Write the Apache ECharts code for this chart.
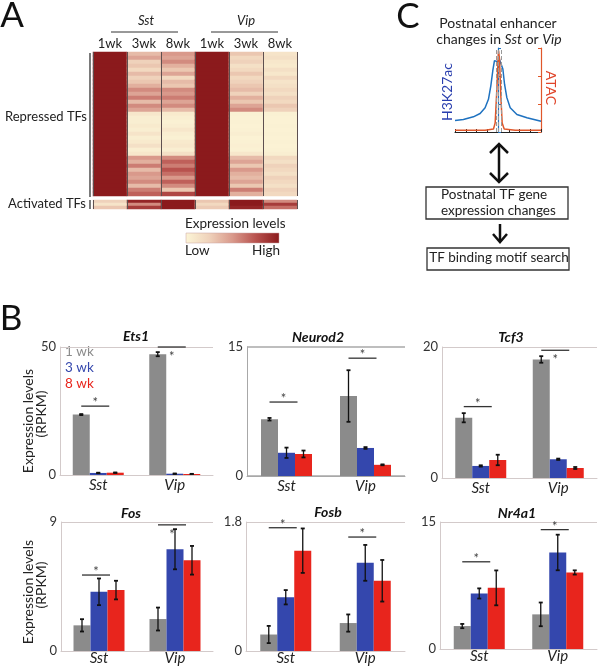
<!DOCTYPE html>
<html>
<head>
<meta charset="utf-8">
<script src="https://cdn.jsdelivr.net/npm/echarts@6/dist/echarts.min.js"></script>
<style>
html, body { margin: 0; padding: 0; background: #fff; }
#main { width: 600px; height: 668px; }
</style>
</head>
<body>
<div id="main"></div>
<script>
// ---- A: heatmap (0 = low, 1 = high), one array per column ----
var weeks = ['1wk', '3wk', '8wk', '1wk', '3wk', '8wk'];
var repSst1 = [1,1,1,1,1,1,1,1,1,1,1,1,1,1,1,1,1,1,1,1,1,1,1,1,1,1,1,1,1,1,1,1,1,1,1,1];
var repSst3 = [0.35,0.45,0.25,0.3,0.2,0.35,0.25,0.3,0.4,0.55,0.45,0.6,0.35,0.55,0.45,0.1,0.05,0.05,0.08,0.05,0.12,0.05,0.08,0.15,0.05,0.1,0.5,0.4,0.6,0.35,0.5,0.45,0.55,0.35,0.6,0.7];
var repSst8 = [0.5,0.45,0.55,0.4,0.3,0.45,0.2,0.35,0.3,0.55,0.5,0.6,0.45,0.55,0.35,0.08,0.05,0.03,0.05,0.1,0.05,0.03,0.08,0.1,0.05,0.15,0.55,0.7,0.6,0.75,0.65,0.5,0.7,0.55,0.3,0.8];
var repVip1 = [1,1,1,1,1,1,1,1,1,1,1,1,1,1,1,1,1,1,1,1,1,1,1,1,1,1,1,1,1,1,1,1,1,1,1,1];
var repVip3 = [0.3,0.2,0.25,0.15,0.2,0.3,0.2,0.25,0.3,0.35,0.25,0.4,0.3,0.45,0.55,0.03,0.02,0.03,0.02,0.03,0.05,0.02,0.03,0.04,0.03,0.1,0.35,0.45,0.3,0.5,0.4,0.35,0.45,0.3,0.6,0.4];
var repVip8 = [0.12,0.15,0.1,0.08,0.15,0.1,0.2,0.12,0.15,0.2,0.15,0.25,0.2,0.3,0.25,0.03,0.02,0.02,0.03,0.02,0.03,0.02,0.03,0.02,0.03,0.05,0.2,0.15,0.25,0.2,0.15,0.25,0.2,0.15,0.25,0.2];
var actSst1 = [0.25,0.12,0.3];
var actSst3 = [0.95,0.55,0.85];
var actSst8 = [1,1,1];
var actVip1 = [0.3,0.2,0.28];
var actVip3 = [1,1,0.95];
var actVip8 = [0.55,0.85,0.65];

// ---- C: enhancer profiles (x = relative position, y = scaled signal) ----
var h3k27ac = [[-1,0.135],[-0.805,0.147],[-0.572,0.179],[-0.416,0.218],[-0.3,0.286],[-0.222,0.385],[-0.167,0.544],[-0.121,0.722],[-0.082,0.841],[-0.043,0.861],[-0.004,0.829],[0.035,0.853],[0.074,0.853],[0.113,0.742],[0.152,0.563],[0.206,0.405],[0.284,0.286],[0.44,0.206],[0.673,0.167],[1,0.127]];
var atac = [[-1,0.02],[-0.3,0.02],[-0.105,0.036],[-0.066,0.107],[-0.027,0.504],[0.012,0.96],[0.035,0.861],[0.066,0.425],[0.097,0.107],[0.144,0.036],[0.4,0.02],[1,0.02]];
var centerLines = [-0.043, 0.012, 0.074];

// ---- B: expression levels (RPKM), [Sst, Vip] per gene ----
var genes = ['Ets1', 'Neurod2', 'Tcf3', 'Fos', 'Fosb', 'Nr4a1'];
var cells = ['Sst', 'Vip'];
var yMax = [50, 15, 20, 9, 1.8, 15];
var wk1 = [[23.6,47.2],[6.6,9.3],[9.2,18.1],[1.79,2.23],[0.23,0.39],[2.71,4.09]];
var wk3 = [[0.8,0.5],[2.7,3.26],[1.84,2.86],[4.13,7.1],[0.75,1.23],[6.56,11.4]];
var wk8 = [[0.9,0.4],[2.56,1.3],[2.75,1.53],[4.25,6.33],[1.4,0.98],[7.22,9.04]];
var err1 = [[0.2,0.8],[0.15,3.0],[0.7,0.5],[0.43,0.8],[0.12,0.12],[0.25,1.4]];
var err3 = [[0.1,0.1],[0.6,0.1],[0.1,0.1],[0.93,1.4],[0.1,0.25],[0.6,2.1]];
var err8 = [[0.1,0.05],[0.4,0.05],[0.8,0.15],[0.65,1.0],[0.31,0.29],[2.06,0.25]];
var sigLevel = [[26.9,50],[8.6,13.7],[10.9,19.5],[5.3,8.8],[1.72,1.59],[10.3,14.1]];
var starBelow = [[0,1],[0,0],[0,1],[0,1],[0,0],[0,0]];

var FONT = 'Lato';
var weekNames = ['1 wk', '3 wk', '8 wk'];
var weekColors = ['#8b8b8b', '#3447ad', '#e8251d'];
var heatColors = ['#fcf5d6', '#efd2bb', '#d9998b', '#b8524e', '#8b1a1c'];

var myChart = echarts.init(document.getElementById('main'));

function txt(x, y, s, font, color, align, rot, rich) {
    var st = { text: s, font: font, fill: color || '#222',
        align: align || 'center', textAlign: align || 'center',
        verticalAlign: 'middle', textVerticalAlign: 'middle' };
    if (rich) st.rich = rich;
    return { type: 'text', x: x, y: y, rotation: rot || 0, style: st };
}
function ln(x1, y1, x2, y2, w, color) {
    return { type: 'line', shape: { x1: x1, y1: y1, x2: x2, y2: y2 },
        style: { stroke: color || '#222', lineWidth: w || 1 } };
}
function chevron(pts) {
    return { type: 'polyline', shape: { points: pts },
        style: { stroke: '#111', lineWidth: 2.5, fill: null } };
}

// heatmap data
var repCols = [repSst1, repSst3, repSst8, repVip1, repVip3, repVip8];
var actCols = [actSst1, actSst3, actSst8, actVip1, actVip3, actVip8];
var repData = [], actData = [], repRows = [], actRows = [];
repCols.forEach(function (col, c) {
    col.forEach(function (v, r) { repData.push([c, r, v]); });
});
actCols.forEach(function (col, c) {
    col.forEach(function (v, r) { actData.push([c, r, v]); });
});
for (var r = 0; r < repSst1.length; r++) repRows.push('r' + r);
for (var r2 = 0; r2 < actSst1.length; r2++) actRows.push('a' + r2);

// 4px rows / 3px rows so that cells meet on whole pixels
var grids = [
    { left: 93, top: 52, width: 204, height: 144 },
    { left: 93, top: 200, width: 204, height: 9 },
    { left: 455, top: 48, width: 86, height: 84 }
];
var barGrids = [
    { left: 60, top: 347, width: 153, height: 128 },
    { left: 247, top: 347, width: 158, height: 129 },
    { left: 442, top: 347, width: 155, height: 131 },
    { left: 61, top: 522, width: 152, height: 129 },
    { left: 246, top: 522, width: 159, height: 129 },
    { left: 440, top: 522, width: 157, height: 127 }
];
grids = grids.concat(barGrids);

var sepLine = { show: true, lineStyle: { color: '#5e5050', width: 1 } };
var xAxes = [
    { type: 'category', gridIndex: 0, data: weeks, position: 'top', z: 10,
      axisLine: { show: false }, axisTick: { show: false },
      axisLabel: { fontSize: 13, fontFamily: FONT, color: '#222', margin: 2 },
      splitLine: sepLine },
    { type: 'category', gridIndex: 1, data: weeks, z: 10,
      axisLine: { show: false }, axisTick: { show: false }, axisLabel: { show: false },
      splitLine: sepLine },
    { type: 'value', gridIndex: 2, min: -1, max: 1, interval: 0.25,
      axisLine: { lineStyle: { color: '#222' } },
      axisTick: { inside: true, length: 3, lineStyle: { color: '#222' } },
      axisLabel: { show: false }, splitLine: { show: false } }
];
var yAxes = [
    { type: 'category', gridIndex: 0, data: repRows, inverse: true, show: false },
    { type: 'category', gridIndex: 1, data: actRows, inverse: true, show: false },
    { type: 'value', gridIndex: 2, min: 0, max: 0.99, interval: 0.33,
      axisLine: { show: true, lineStyle: { color: '#1f72c0', width: 1.2 } },
      axisTick: { show: true, inside: true, length: 3, lineStyle: { color: '#1f72c0' } },
      axisLabel: { show: false }, splitLine: { show: false } },
    { type: 'value', gridIndex: 2, position: 'right', min: 0, max: 0.99, interval: 0.33,
      axisLine: { show: true, lineStyle: { color: '#e0572a', width: 1.2 } },
      axisTick: { show: true, inside: true, length: 3, lineStyle: { color: '#e0572a' } },
      axisLabel: { show: false }, splitLine: { show: false } }
];

var series = [
    { type: 'heatmap', xAxisIndex: 0, yAxisIndex: 0, data: repData, itemStyle: { borderWidth: 0 } },
    { type: 'heatmap', xAxisIndex: 1, yAxisIndex: 1, data: actData, itemStyle: { borderWidth: 0 } },
    { type: 'line', xAxisIndex: 2, yAxisIndex: 2, data: h3k27ac, symbol: 'none',
      lineStyle: { color: '#1f72c0', width: 1.5 },
      markLine: { silent: true, symbol: 'none', label: { show: false },
        lineStyle: { color: '#999', type: 'dashed', width: 1 },
        data: centerLines.map(function (v) { return { xAxis: v }; }) } },
    { type: 'line', xAxisIndex: 2, yAxisIndex: 3, data: atac, symbol: 'none',
      lineStyle: { color: '#e0572a', width: 1.5 } }
];

function renderErr(params, api) {
    var c = api.value(0), v = api.value(1), e = api.value(2), s = api.value(3);
    var hi = api.coord([c, v + e]);
    var lo = api.coord([c, Math.max(v - e, 0)]);
    var x = hi[0] + (s - 1) * 17;
    return { type: 'group', children: [
        ln(x, hi[1], x, lo[1], 1.3, '#111'),
        ln(x - 2, hi[1], x + 2, hi[1], 1.8, '#111'),
        ln(x - 2, lo[1], x + 2, lo[1], 1.8, '#111')
    ] };
}
function renderSig(params, api) {
    var p = api.coord([api.value(0), api.value(1)]);
    var below = api.value(2);
    return { type: 'group', children: [
        ln(p[0] - 17, p[1], p[0] + 11, p[1], 1.3, '#333'),
        { type: 'text', x: p[0] - 3, y: below ? p[1] + 10 : p[1] - 3,
          style: { text: '*', font: '13px ' + FONT, fill: '#444',
            align: 'center', textAlign: 'center', verticalAlign: 'middle', textVerticalAlign: 'middle' } }
    ] };
}

genes.forEach(function (g, i) {
    var gx = i + 3;   // x axis / grid index
    var gy = i + 4;   // y axis index
    var axColor = i === 1 ? '#a8a8a8' : '#d3caca';
    xAxes.push({ type: 'category', gridIndex: gx, data: cells,
        axisTick: { show: false }, axisLine: { lineStyle: { color: axColor } },
        axisLabel: { fontStyle: 'italic', fontSize: 15, fontFamily: FONT, color: '#222', margin: i < 3 ? 3 : 0 } });
    yAxes.push({ type: 'value', gridIndex: gx, min: 0, max: yMax[i], interval: yMax[i],
        axisLine: { show: true, lineStyle: { color: axColor } }, axisTick: { show: false },
        axisLabel: { fontSize: 13, fontFamily: FONT, color: '#333', margin: 4 },
        splitLine: { show: true, lineStyle: { color: axColor, width: i === 1 ? 1.5 : 1 } } });
    var vals = [wk1[i], wk3[i], wk8[i]];
    var errs = [err1[i], err3[i], err8[i]];
    var errData = [];
    vals.forEach(function (v, s) {
        series.push({ type: 'bar', name: weekNames[s], xAxisIndex: gx, yAxisIndex: gy,
            data: v, barWidth: 17, barGap: '0%', itemStyle: { color: weekColors[s] } });
        v.forEach(function (val, c) { errData.push([c, val, errs[s][c], s]); });
    });
    series.push({ type: 'custom', xAxisIndex: gx, yAxisIndex: gy, z: 4, clip: false,
        encode: { x: 0, y: 1 }, renderItem: renderErr, data: errData });
    series.push({ type: 'custom', xAxisIndex: gx, yAxisIndex: gy, z: 4, clip: false,
        encode: { x: 0, y: 1 }, renderItem: renderSig,
        data: [[0, sigLevel[i][0], starBelow[i][0]], [1, sigLevel[i][1], starBelow[i][1]]] });
});

// gene titles (centre x, centre y)
var titlePos = [[136, 336], [318, 337], [511, 337], [131, 513], [328, 512], [517, 513]];
var graphics = [];
genes.forEach(function (g, i) {
    graphics.push(txt(titlePos[i][0], titlePos[i][1], g, 'italic bold 14px ' + FONT, '#111'));
});
// legend of panel B (Ets1 panel)
weekNames.forEach(function (n, s) {
    graphics.push(txt(65, 352 + s * 16, n, '13.5px ' + FONT, weekColors[s], 'left'));
});

graphics = graphics.concat([
    // panel letters
    txt(12, 16, 'A', '35px ' + FONT, '#111'),
    txt(11, 319, 'B', '35px ' + FONT, '#111'),
    txt(408, 17, 'C', '35px ' + FONT, '#111'),
    // A annotations
    txt(146, 21, 'Sst', 'italic 13px ' + FONT, '#222'),
    txt(246, 21, 'Vip', 'italic 13px ' + FONT, '#222'),
    ln(111, 32, 178, 32, 1, '#333'),
    ln(211, 32, 278, 32, 1, '#333'),
    txt(87, 117, 'Repressed TFs', '13px ' + FONT, '#222', 'right'),
    txt(86, 204, 'Activated TFs', '13px ' + FONT, '#222', 'right'),
    ln(90, 53, 90, 197, 1.2, '#222'),
    ln(90, 200, 90, 209, 1.2, '#222'),
    txt(185, 224, 'Expression levels', '13.5px ' + FONT, '#222', 'left'),
    { type: 'rect', shape: { x: 186, y: 233, width: 93, height: 10 },
      style: { stroke: '#c9a0a0', lineWidth: 0.5,
        fill: new echarts.graphic.LinearGradient(0, 0, 1, 0, heatColors.map(function (c, j) {
            return { offset: j / (heatColors.length - 1), color: c }; })) } },
    txt(185, 251, 'Low', '13.5px ' + FONT, '#222', 'left'),
    txt(280, 251, 'High', '13.5px ' + FONT, '#222', 'right'),
    // B y-axis titles
    txt(28, 421, 'Expression levels', '14px ' + FONT, '#222', 'center', Math.PI / 2),
    txt(41, 414, '(RPKM)', '14px ' + FONT, '#222', 'center', Math.PI / 2),
    txt(28, 592, 'Expression levels', '14px ' + FONT, '#222', 'center', Math.PI / 2),
    txt(41, 585, '(RPKM)', '14px ' + FONT, '#222', 'center', Math.PI / 2),
    // C annotations
    txt(498, 23, 'Postnatal enhancer', '14px ' + FONT, '#222'),
    txt(499, 39, 'changes in {i|Sst} or {i|Vip}', '14px ' + FONT, '#222', 'center', 0,
        { i: { fontStyle: 'italic', fontSize: 14, fontFamily: FONT, color: '#222' } }),
    txt(447, 92, 'H3K27ac', '14px ' + FONT, '#2a3fae', 'center', Math.PI / 2),
    txt(551, 88, 'ATAC', '14px ' + FONT, '#e0452a', 'center', -Math.PI / 2),
    ln(499, 145, 499, 181, 2.5, '#111'),
    chevron([[490, 153], [499, 144], [508, 153]]),
    chevron([[490, 173], [499, 182], [508, 173]]),
    { type: 'rect', shape: { x: 426, y: 187, width: 142, height: 32 },
      style: { stroke: '#333', lineWidth: 1.3, fill: null } },
    txt(441, 195, 'Postnatal TF gene', '13.5px ' + FONT, '#222', 'left'),
    txt(441, 211, 'expression changes', '13.5px ' + FONT, '#222', 'left'),
    ln(500, 224, 500, 241, 2.5, '#111'),
    chevron([[493, 234], [500, 242], [507, 234]]),
    { type: 'rect', shape: { x: 427, y: 248, width: 142, height: 22 },
      style: { stroke: '#333', lineWidth: 1.3, fill: null } },
    txt(499, 258, 'TF binding motif search', '13.5px ' + FONT, '#222')
]);

var option = {
    animation: false,
    textStyle: { fontFamily: FONT },
    grid: grids,
    xAxis: xAxes,
    yAxis: yAxes,
    visualMap: { type: 'continuous', min: 0, max: 1, seriesIndex: [0, 1], show: false,
        inRange: { color: heatColors } },
    graphic: graphics,
    series: series
};
myChart.setOption(option);
</script>
</body>
</html>
